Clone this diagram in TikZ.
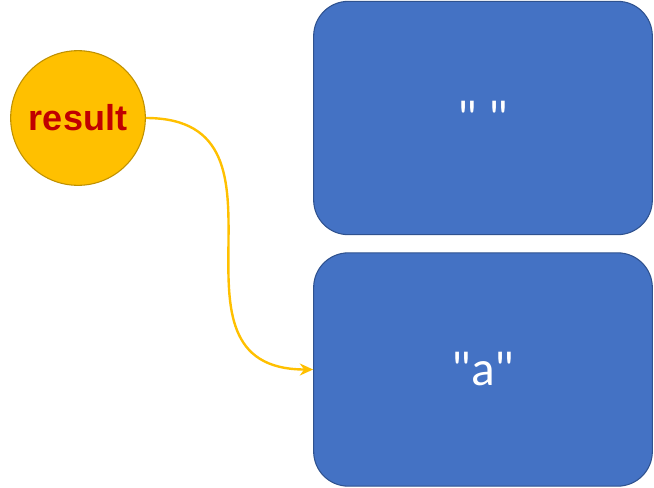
\documentclass[tikz,border=0pt]{standalone}
\usepackage{fontspec}
\setmainfont{Carlito}
\newfontfamily\labelfont{Liberation Sans}
\usetikzlibrary{arrows.meta}
\definecolor{resgold}{RGB}{255,192,0}
\definecolor{resedge}{RGB}{191,144,0}
\definecolor{resred}{RGB}{192,0,0}
\definecolor{strblue}{RGB}{68,114,196}
\definecolor{strnavy}{RGB}{47,82,143}

\begin{document}
\begin{tikzpicture}[x=0.75pt, y=-0.75pt,
      strbox/.style={rounded corners=26pt, minimum width=254pt, minimum height=175pt, fill=strblue, draw=strnavy, line width=0.8pt, text=white, font=\fontsize{37}{40}\selectfont},
      varcirc/.style={circle, minimum size=101pt, inner sep=0pt, fill=resgold, draw=resedge, line width=0.8pt, text=resred, font=\labelfont\fontsize{27}{30}\selectfont\bfseries},
      refarrow/.style={-{Stealth[length=10pt, width=9pt]}, draw=resgold, line width=1.8pt}
    ]
      \useasboundingbox (0,0) rectangle (654,487);

      % Strings
      \node[strbox] (space) at (483, 118) {\textquotedbl\ \textquotedbl};
      \node[strbox] (letter) at (483, 369.5) {\textquotedbl a\textquotedbl};

      % Variable
      \node[varcirc] (result) at (78, 118) {result};

      % Reference
      \draw[refarrow] (result.east) to[out=0, in=180, looseness=1.4] (letter.west);
    \end{tikzpicture}
\end{document}
